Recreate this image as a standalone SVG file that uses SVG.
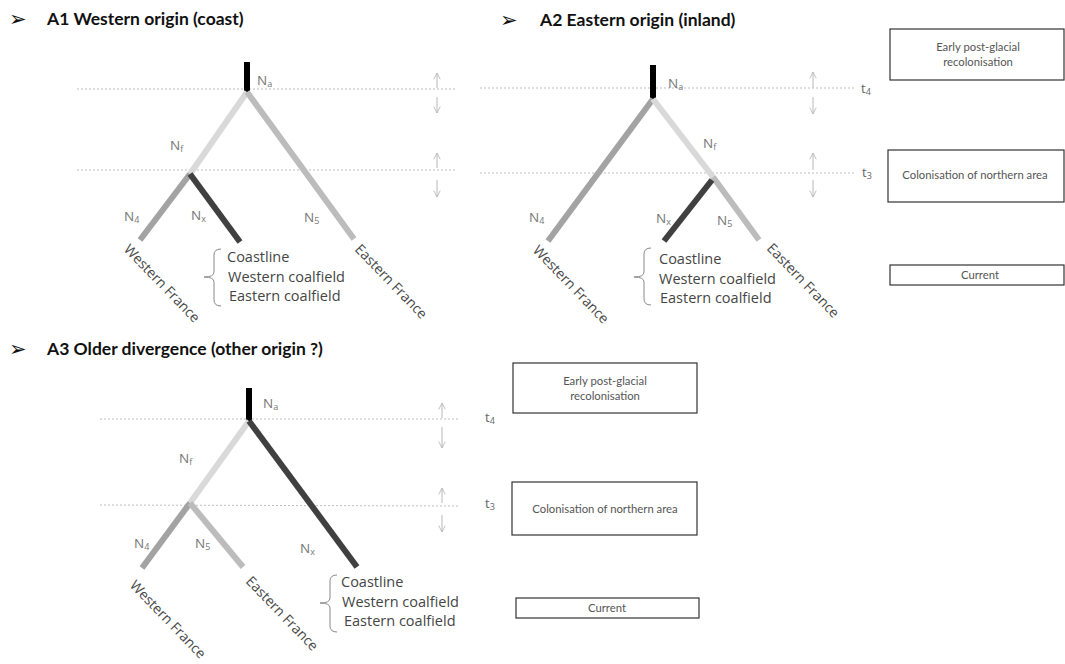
<svg xmlns="http://www.w3.org/2000/svg" width="1065" height="664" viewBox="0 0 1065 664">
<defs>
<marker id="ah" viewBox="0 0 10 10" refX="9" refY="5" markerWidth="8" markerHeight="8" orient="auto" markerUnits="userSpaceOnUse">
<path d="M1,1 L9,5 L1,9" fill="none" stroke="#b8b8b8" stroke-width="1.1"/>
</marker>
</defs>
<style>
.hdr{font-family:Lato,"Liberation Sans",sans-serif;font-weight:bold;font-size:17.5px;fill:#111}
.bul{font-family:"DejaVu Sans",sans-serif;font-size:21px;fill:#111}
.n{font-family:"Open Sans","Liberation Sans",sans-serif;font-size:13.5px;fill:#777}
.sub{font-size:9px}
.lbl{font-family:"Open Sans","Liberation Sans",sans-serif;font-size:14.5px;fill:#454545}
.rot{font-family:"Open Sans","Liberation Sans",sans-serif;font-size:14px;fill:#4a4a4a}
.t{font-family:"Open Sans","Liberation Sans",sans-serif;font-size:13px;fill:#666}
.box{fill:#fff;stroke:#333;stroke-width:1.2}
.bt{font-family:Lato,"Liberation Sans",sans-serif;font-size:11.3px;fill:#555;text-anchor:middle}
.dash{stroke:#bdbdbd;stroke-width:1;stroke-dasharray:2 2;fill:none}
.arr{stroke:#b8b8b8;stroke-width:1;fill:none;marker-end:url(#ah)}
.br{stroke-width:6;fill:none;stroke-linecap:butt}
.root{stroke:#000}
.lt{stroke:#d9d9d9}
.md{stroke:#a3a3a3}
.ml{stroke:#bcbcbc}
.dk{stroke:#404040}
.brace{stroke:#8a8a8a;stroke-width:1;fill:none}
</style>
<rect width="1065" height="664" fill="#fff"/>

<!-- Headers -->
<g id="hdr-a1"><text class="bul" x="9" y="26">➢</text><text class="hdr" x="47" y="25">A1 Western origin (coast)</text></g>
<g id="hdr-a2"><text class="bul" x="500" y="27">➢</text><text class="hdr" x="540" y="26">A2 Eastern origin (inland)</text></g>
<g id="hdr-a3"><text class="bul" x="9" y="356">➢</text><text class="hdr" x="47" y="355">A3 Older divergence (other origin ?)</text></g>

<!-- Time guides -->
<g id="guides">
<line class="dash" x1="77" y1="89" x2="455" y2="89"/>
<line class="dash" x1="77" y1="170" x2="455" y2="170"/>
<line class="dash" x1="480" y1="88" x2="855" y2="88"/>
<line class="dash" x1="480" y1="173" x2="855" y2="173"/>
<line class="dash" x1="100" y1="419" x2="460" y2="419"/>
<line class="dash" x1="100" y1="505" x2="460" y2="506"/>
<path class="arr" d="M437,88 V73"/><path class="arr" d="M437,97 V113"/>
<path class="arr" d="M437,168 V153"/><path class="arr" d="M437,180 V197"/>
<path class="arr" d="M813,88 V72"/><path class="arr" d="M813,97 V114"/>
<path class="arr" d="M813,170 V153"/><path class="arr" d="M813,180 V197"/>
<path class="arr" d="M442,418 V403"/><path class="arr" d="M442,427 V448"/>
<path class="arr" d="M442,503 V488"/><path class="arr" d="M442,515 V532"/>
</g>

<!-- Tree branches (connectors) -->
<g id="connectors">
<line class="br root" x1="247" y1="62" x2="247" y2="92"/>
<line class="br lt" x1="247" y1="92" x2="190" y2="174"/>
<line class="br ml" x1="247" y1="92" x2="354" y2="239"/>
<line class="br md" x1="190" y1="174" x2="140" y2="240"/>
<line class="br dk" x1="190" y1="174" x2="240" y2="242"/>

<line class="br root" x1="653" y1="65" x2="653" y2="99"/>
<line class="br md" x1="653" y1="99" x2="548" y2="241"/>
<line class="br lt" x1="653" y1="99" x2="713" y2="177"/>
<line class="br ml" x1="713" y1="177" x2="759" y2="240"/>
<line class="br dk" x1="712" y1="180" x2="664" y2="241"/>

<line class="br root" x1="249" y1="388" x2="249" y2="421"/>
<line class="br lt" x1="249" y1="421" x2="190" y2="503"/>
<line class="br dk" x1="249" y1="421" x2="357" y2="567"/>
<line class="br md" x1="190" y1="503" x2="142" y2="568"/>
<line class="br ml" x1="190" y1="503" x2="243" y2="567"/>
</g>

<!-- A1 labels -->
<g id="a1-na"><text class="n" x="257" y="85">N<tspan class="sub" dy="2">a</tspan></text></g>
<g id="a1-nf"><text class="n" x="170" y="150">N<tspan class="sub" dy="2">f</tspan></text></g>
<g id="a1-n4"><text class="n" x="124" y="221">N<tspan class="sub" dy="2">4</tspan></text></g>
<g id="a1-nx"><text class="n" x="191" y="220">N<tspan class="sub" dy="2">x</tspan></text></g>
<g id="a1-n5"><text class="n" x="304" y="222">N<tspan class="sub" dy="2">5</tspan></text></g>
<g id="a1-west"><text class="rot" x="123" y="250" transform="rotate(46 123 250)">Western France</text></g>
<g id="a1-east"><text class="rot" x="354" y="250" transform="rotate(46 354 250)">Eastern France</text></g>
<g id="a1-list">
<path class="brace" d="M221,249 Q214,249 214,255 L214,272 Q214,277 204,277 Q214,277 214,282 L214,300 Q214,306 221,306"/>
<text class="lbl" x="227" y="262">Coastline</text>
<text class="lbl" x="228" y="282">Western coalfield</text>
<text class="lbl" x="229" y="301">Eastern coalfield</text>
</g>

<!-- A2 labels -->
<g id="a2-na"><text class="n" x="668" y="88">N<tspan class="sub" dy="2">a</tspan></text></g>
<g id="a2-nf"><text class="n" x="703" y="148">N<tspan class="sub" dy="2">f</tspan></text></g>
<g id="a2-n4"><text class="n" x="529" y="222">N<tspan class="sub" dy="2">4</tspan></text></g>
<g id="a2-nx"><text class="n" x="656" y="223">N<tspan class="sub" dy="2">x</tspan></text></g>
<g id="a2-n5"><text class="n" x="717" y="225">N<tspan class="sub" dy="2">5</tspan></text></g>
<g id="a2-west"><text class="rot" x="532" y="251" transform="rotate(46 532 251)">Western France</text></g>
<g id="a2-east"><text class="rot" x="766" y="249" transform="rotate(46 766 249)">Eastern France</text></g>
<g id="a2-list">
<path class="brace" d="M651,248 Q644,248 644,254 L644,272 Q644,277 634,277 Q644,277 644,282 L644,299 Q644,305 651,305"/>
<text class="lbl" x="659" y="264">Coastline</text>
<text class="lbl" x="659" y="284">Western coalfield</text>
<text class="lbl" x="660" y="303">Eastern coalfield</text>
</g>
<g id="a2-t4"><text class="t" x="861" y="93">t<tspan class="sub" dy="2">4</tspan></text></g>
<g id="a2-t3"><text class="t" x="862" y="177">t<tspan class="sub" dy="2">3</tspan></text></g>

<!-- A2 time boxes -->
<g id="a2-box-early"><rect class="box" x="890" y="29" width="174" height="51"/><text class="bt" x="978" y="51">Early post-glacial</text><text class="bt" x="978" y="66">recolonisation</text></g>
<g id="a2-box-colon"><rect class="box" x="888" y="150" width="176" height="52"/><text class="bt" x="975" y="179">Colonisation of northern area</text></g>
<g id="a2-box-current"><rect class="box" x="890" y="265" width="174" height="20"/><text class="bt" x="980" y="279">Current</text></g>

<!-- A3 labels -->
<g id="a3-na"><text class="n" x="263" y="408">N<tspan class="sub" dy="2">a</tspan></text></g>
<g id="a3-nf"><text class="n" x="179" y="463">N<tspan class="sub" dy="2">f</tspan></text></g>
<g id="a3-n4"><text class="n" x="134" y="548">N<tspan class="sub" dy="2">4</tspan></text></g>
<g id="a3-n5"><text class="n" x="195" y="548">N<tspan class="sub" dy="2">5</tspan></text></g>
<g id="a3-nx"><text class="n" x="300" y="553">N<tspan class="sub" dy="2">x</tspan></text></g>
<g id="a3-west"><text class="rot" x="129" y="586" transform="rotate(46 129 586)">Western France</text></g>
<g id="a3-east"><text class="rot" x="245" y="582" transform="rotate(46 245 582)">Eastern France</text></g>
<g id="a3-list">
<path class="brace" d="M337,575 Q330,575 330,581 L330,598 Q330,603 320,603 Q330,603 330,608 L330,626 Q330,632 337,632"/>
<text class="lbl" x="341" y="587">Coastline</text>
<text class="lbl" x="342" y="607">Western coalfield</text>
<text class="lbl" x="344" y="626">Eastern coalfield</text>
</g>
<g id="a3-t4"><text class="t" x="485" y="422">t<tspan class="sub" dy="2">4</tspan></text></g>
<g id="a3-t3"><text class="t" x="485" y="508">t<tspan class="sub" dy="2">3</tspan></text></g>

<!-- A3 time boxes -->
<g id="a3-box-early"><rect class="box" x="513" y="363" width="184" height="50"/><text class="bt" x="605" y="385">Early post-glacial</text><text class="bt" x="605" y="400">recolonisation</text></g>
<g id="a3-box-colon"><rect class="box" x="512" y="482" width="185" height="53"/><text class="bt" x="605" y="513">Colonisation of northern area</text></g>
<g id="a3-box-current"><rect class="box" x="516" y="598" width="183" height="20"/><text class="bt" x="607" y="612">Current</text></g>
</svg>
